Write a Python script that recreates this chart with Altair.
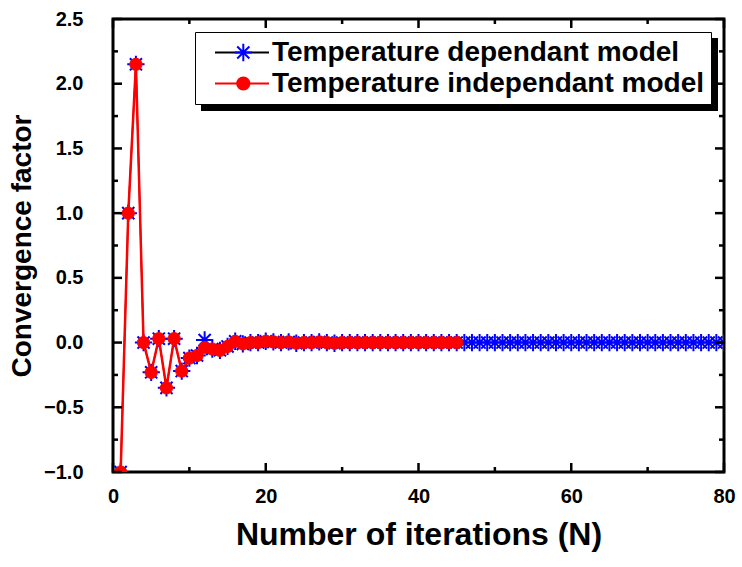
import altair as alt
import pandas as pd

DEP = "Temperature dependant model"
IND = "Temperature independant model"

iterations_dep = list(range(1, 81))
factor_dep = [-1.0, 1.0, 2.15, 0.0, -0.23, 0.03, -0.35, 0.03, -0.22, -0.12,
              -0.10, 0.02, -0.05, -0.06, -0.03, 0.01, -0.01, 0.0, 0.0, 0.01,
              0.005, 0.0, 0.005, -0.005, 0.0, 0.0, 0.005, 0.0, -0.005, 0.0,
              0.0, 0.0, 0.0, 0.0, 0.0, 0.0, 0.0, 0.0, 0.0, 0.0,
              0.0, 0.0, 0.0, 0.0, 0.0, 0.0, 0.0, 0.0, 0.0, 0.0,
              0.0, 0.0, 0.0, 0.0, 0.0, 0.0, 0.0, 0.0, 0.0, 0.0,
              0.0, 0.0, 0.0, 0.0, 0.0, 0.0, 0.0, 0.0, 0.0, 0.0,
              0.0, 0.0, 0.0, 0.0, 0.0, 0.0, 0.0, 0.0, 0.0, 0.0]

iterations_ind = list(range(1, 46))
factor_ind = [-1.0, 1.0, 2.15, 0.0, -0.23, 0.03, -0.35, 0.03, -0.22, -0.12,
              -0.10, -0.04, -0.05, -0.06, -0.03, 0.01, -0.01, 0.0, 0.0, 0.01,
              0.005, 0.0, 0.005, -0.005, 0.0, 0.0, 0.005, 0.0, -0.005, 0.0,
              0.0, 0.0, 0.0, 0.0, 0.0, 0.0, 0.0, 0.0, 0.0, 0.0,
              0.0, 0.0, 0.0, 0.0, 0.0]

x_major = [0, 20, 40, 60, 80]
x_minor = [10, 30, 50, 70]
y_major = [-1.0, -0.5, 0.0, 0.5, 1.0, 1.5, 2.0, 2.5]
y_minor = [-0.75, -0.25, 0.25, 0.75, 1.25, 1.75, 2.25]

MARK_STAR = "star"
MARK_DOT = "dot"

df_dep = pd.DataFrame({"N": iterations_dep, "F": factor_dep})
df_dep["model"] = DEP
df_dep["marker"] = MARK_STAR
df_ind = pd.DataFrame({"N": iterations_ind, "F": factor_ind})
df_ind["model"] = IND
df_ind["marker"] = MARK_DOT
for d in (df_dep, df_ind):
    d["shadow"] = d["model"]

W, H = 611, 453
FONT = "Liberation Sans"
STAR = "M-1,0L1,0M0,-1L0,1M-0.7,-0.7L0.7,0.7M-0.7,0.7L0.7,-0.7"
LINEPATH = "M-0.05,0L5.35,0"
SHADOWPATH = "M0,0L517,0"
LEG_FS = 28
LEG_PAD = 6.5
LEG_ROW = 3
MAJ, MIN = 9, 5

xs = alt.Scale(domain=[0, 80], nice=False, zero=False)
ys = alt.Scale(domain=[-1, 2.5], nice=False, zero=False)
dom = [DEP, IND]

main_x = alt.Axis(values=x_major, format="d", labelFont=FONT, labelFontWeight="bold",
                  labelFontSize=20, labelColor="black", labelPadding=14, ticks=False,
                  domain=False, grid=False, labelFlush=False, labelOverlap=False,
                  title="Number of iterations (N)", titleFont=FONT, titleFontWeight="bold",
                  titleFontSize=32, titleColor="black", titlePadding=13)
main_y = alt.Axis(values=y_major, format=".1f", labelFont=FONT, labelFontWeight="bold",
                  labelFontSize=20, labelColor="black", labelPadding=30, ticks=False,
                  domain=False, grid=False, labelFlush=False, labelOverlap=False,
                  title="Convergence factor", titleFont=FONT, titleFontWeight="bold",
                  titleFontSize=28, titleColor="black", titlePadding=7)

legA = alt.Legend(title=None, orient="none", legendX=82, legendY=13, symbolType=LINEPATH,
                  symbolSize=400, symbolStrokeWidth=2, labelFont=FONT, labelFontWeight="bold",
                  labelFontSize=LEG_FS, labelColor="black", labelOffset=42.5, labelLimit=1000,
                  padding=LEG_PAD, rowPadding=LEG_ROW, fillColor="white", strokeColor="black",
                  zindex=1)
legC = alt.Legend(title=None, orient="none", legendX=50.5, legendY=18, values=[DEP],
                  symbolType=SHADOWPATH, symbolSize=4, symbolStrokeWidth=73,
                  symbolStrokeColor="black", labelExpr="''", padding=0, zindex=0)
legB = alt.Legend(title=None, orient="none", legendX=109.8, legendY=13,
                  symbolStrokeWidth=2, labelFont=FONT, labelFontWeight="bold",
                  labelFontSize=LEG_FS, labelExpr="''", labelLimit=1000,
                  padding=LEG_PAD, rowPadding=LEG_ROW, zindex=2)

mdom = [MARK_STAR, MARK_DOT]
color_enc = alt.Color("model:N", scale=alt.Scale(domain=dom, range=["black", "red"]), legend=legA)
dash_enc = alt.StrokeDash("shadow:N", scale=alt.Scale(domain=[IND, DEP], range=[[1, 0], [1, 0]]),
                          legend=legC)
shape_enc = alt.Shape("marker:N", scale=alt.Scale(domain=mdom, range=[STAR, "circle"]), legend=legB)
stroke_enc = alt.Stroke("marker:N", scale=alt.Scale(domain=mdom, range=["blue", "red"]), legend=legB)
fill_enc = alt.Fill("marker:N", scale=alt.Scale(domain=mdom, range=["transparent", "red"]), legend=legB)
size_enc = alt.Size("marker:N", scale=alt.Scale(domain=mdom, range=[300, 150]), legend=legB)

l1 = alt.Chart(df_dep).mark_line(strokeWidth=1.5, clip=True).encode(
    x=alt.X("N:Q", scale=xs, axis=main_x),
    y=alt.Y("F:Q", scale=ys, axis=main_y),
    color=color_enc, strokeDash=dash_enc)
l2 = alt.Chart(df_dep).mark_point(strokeWidth=2, opacity=1, clip=True).encode(
    x=alt.X("N:Q", scale=xs), y=alt.Y("F:Q", scale=ys),
    shape=shape_enc, stroke=stroke_enc, fill=fill_enc, size=size_enc)
l3 = alt.Chart(df_ind).mark_line(strokeWidth=2.5, clip=True).encode(
    x=alt.X("N:Q", scale=xs), y=alt.Y("F:Q", scale=ys),
    color=color_enc, strokeDash=dash_enc)
l4 = alt.Chart(df_ind).mark_point(strokeWidth=1, opacity=1, clip=True).encode(
    x=alt.X("N:Q", scale=xs), y=alt.Y("F:Q", scale=ys),
    shape=shape_enc, stroke=stroke_enc, fill=fill_enc, size=size_enc)


def x_ticks(values, length, at_top):
    y0 = 0 if at_top else H
    y1 = length if at_top else H - length
    return alt.Chart(pd.DataFrame({"N": values})).mark_rule(
        color="black", strokeWidth=2.5).encode(
        x=alt.X("N:Q", scale=xs), y=alt.value(y0), y2=alt.value(y1))


def y_ticks(values, length, at_right):
    x0 = W if at_right else 0
    x1 = W - length if at_right else length
    return alt.Chart(pd.DataFrame({"F": values})).mark_rule(
        color="black", strokeWidth=2.5).encode(
        y=alt.Y("F:Q", scale=ys), x=alt.value(x0), x2=alt.value(x1))


ticks = [
    x_ticks(x_major, MAJ, False), x_ticks(x_minor, MIN, False),
    x_ticks(x_major, MAJ, True), x_ticks(x_minor, MIN, True),
    y_ticks(y_major, MAJ, False), y_ticks(y_minor, MIN, False),
    y_ticks(y_major, MAJ, True), y_ticks(y_minor, MIN, True),
]

chart = alt.layer(l1, l2, l3, l4, *ticks).properties(
    width=W, height=H,
    autosize=alt.AutoSizeParams(type="none"),
    padding={"left": 113, "top": 19, "right": 18, "bottom": 95},
    background="white",
).configure_view(stroke="black", strokeWidth=3)

chart.save("out.html", embed_options={"renderer": "svg", "actions": False})
